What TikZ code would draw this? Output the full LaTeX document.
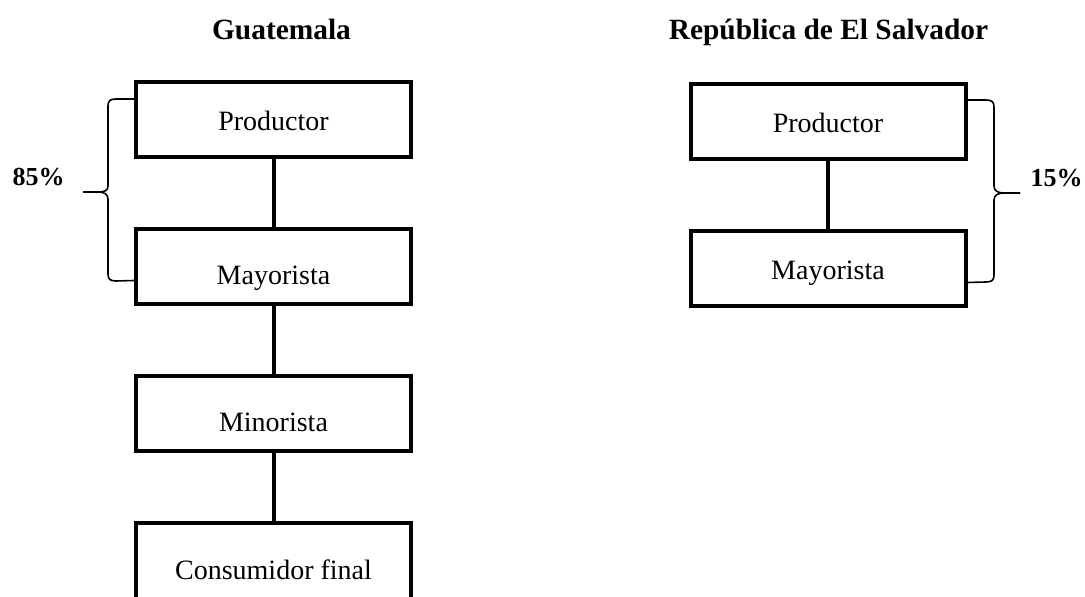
\documentclass[tikz,border=0pt]{standalone}
\usepackage{fontspec}
\setmainfont{Liberation Serif}
\usetikzlibrary{calc, positioning}

\begin{document}
\begin{tikzpicture}
	[x=0.5pt, y=-0.5pt, node distance=34pt,
	box/.style={draw, line width=2pt, minimum width=137.5pt, minimum height=37.5pt, inner ysep=0pt, font=\fontsize{14}{16}\selectfont, text height=1.31em, text depth=0.22em},
	lowbox/.style={box, text height=2.02em},
	heading/.style={font=\bfseries\fontsize{14.7}{17}\selectfont, text height=0.9em, text depth=0.24em},
	pct/.style={font=\bfseries\fontsize{13}{15}\selectfont, text height=0.9em, text depth=0.24em},
	link/.style={line width=2pt},
	brace/.style={line width=0.8pt}]
	\useasboundingbox (0,0) rectangle (1085,597);

	% Guatemala
	\node[heading] (gtitle) at (281.5,32.5) {Guatemala};
	\node[box] (gprod) at (273.5,120) {Productor};
	\node[lowbox, below=of gprod] (gmay) {Mayorista};
	\node[lowbox, below=of gmay] (gmin) {Minorista};
	\node[lowbox, below=of gmin] (gcons) {Consumidor final};

	\draw[link] (gprod) -- (gmay);
	\draw[link] (gmay) -- (gmin);
	\draw[link] (gmin) -- (gcons);

	\coordinate (gtop) at ($(gprod.west)+(0,-21)$);
	\coordinate (gbot) at ($(gmay.west)+(0,13.5)$);
	\coordinate (gtip) at (83,192);
	\draw[brace] (gtop) -- (116,99) .. controls (110,99) and (108,101) .. (108,106) -- (108,186) .. controls (108,191) and (104,192) .. (98,192) -- (gtip);
	\draw[brace] (gtip) -- (98,192) .. controls (104,192) and (108,194) .. (108,199) -- (108,274) .. controls (108,279) and (110,281) .. (116,281) -- (gbot);
	\node[pct] (gpct) at (38.5,179) {85\%};

	% El Salvador
	\node[heading] (stitle) at (828.5,32.5) {República de El Salvador};
	\node[box] (sprod) at (828,121.5) {Productor};
	\node[box, below=of sprod] (smay) {Mayorista};

	\draw[link] (sprod) -- (smay);

	\coordinate (stop) at ($(sprod.east)+(0,-21.5)$);
	\coordinate (sbot) at ($(smay.east)+(0,14)$);
	\coordinate (stip) at (1020,193);
	\draw[brace] (stop) -- (986,100) .. controls (992,100) and (994,102) .. (994,107) -- (994,186) .. controls (994,191) and (998,193) .. (1004,193) -- (stip);
	\draw[brace] (stip) -- (1004,193) .. controls (998,193) and (994,195) .. (994,200) -- (994,275) .. controls (994,280) and (992,282) .. (986,282) -- (sbot);
	\node[pct] (spct) at (1056.5,179.5) {15\%};
\end{tikzpicture}
\end{document}
